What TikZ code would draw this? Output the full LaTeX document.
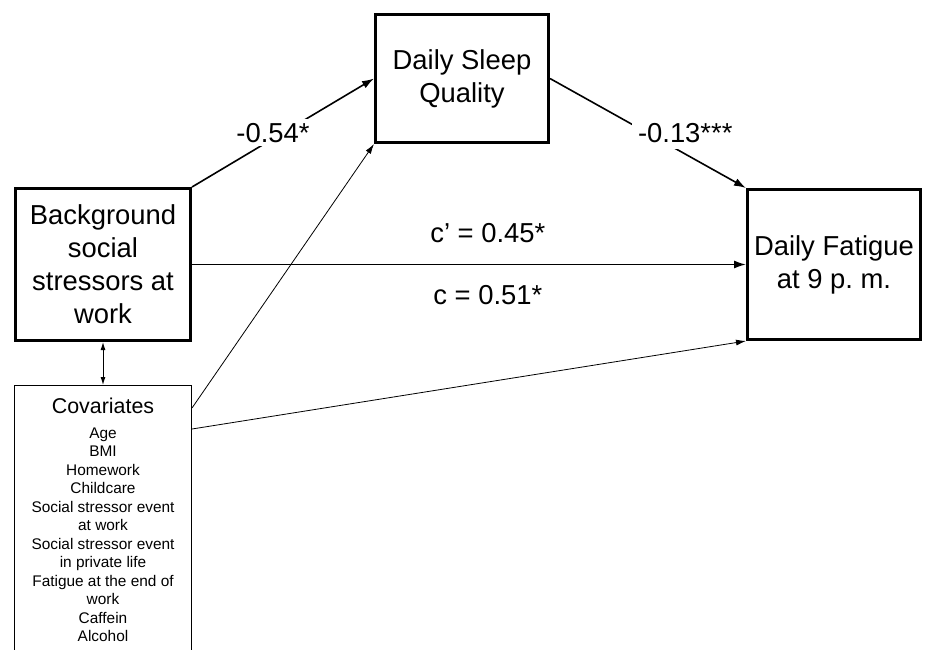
\documentclass[tikz,border=0pt]{standalone}
\usepackage{fontspec}
\setmainfont{Liberation Sans}
\usetikzlibrary{arrows.meta}
\tikzset{
    varbox/.style={draw, line width=1.5pt, align=center, inner sep=0pt,
        font=\fontsize{13.7}{16.5}\selectfont},
    mainarrow/.style={-{Latex[length=6pt,width=4pt]}, line width=0.8pt},
    covarrow/.style={-{Latex[length=5pt,width=3pt]}, line width=0.4pt},
    coef/.style={font=\fontsize{13.7}{16.5}\selectfont, inner sep=2pt}
}

\begin{document}
\begin{tikzpicture}[x=0.5pt, y=-0.5pt]
    \useasboundingbox (0,0) rectangle (925,649);
    \clip (0,0) rectangle (925,649);
    % Variables
    \node[varbox, minimum width=87.5pt, minimum height=76pt] (bg) at (103,264.5)
        {Background\\social\\stressors at\\work};
    \node[varbox, minimum width=86.5pt, minimum height=64pt] (sleep) at (462,78.5)
        {Daily Sleep\\Quality};
    \node[varbox, minimum width=86.5pt, minimum height=75pt] (fatigue) at (834,264.5)
        {Daily Fatigue\\at 9 p.\ m.};
    % Covariates
    \node[draw, line width=0.5pt, inner sep=0pt, minimum width=88.5pt, minimum height=150pt,
        anchor=north] (cov) at (103,385) {};
    \node[anchor=base, inner sep=0pt, font=\fontsize{10.7}{12.8}\selectfont] (covtitle) at (103,413) {Covariates};
    \node[anchor=north, inner sep=0pt, align=center, font=\fontsize{7.7}{9.27}\selectfont] (covlist) at (103,427)
        {Age\\BMI\\Homework\\Childcare\\Social stressor event\\at work\\Social stressor event\\in private life\\Fatigue at the end of\\work\\Caffein\\Alcohol};
    \coordinate (covA) at ([yshift=-11.5pt]cov.north east);
    \coordinate (covB) at ([yshift=-22pt]cov.north east);
    % Paths
    \draw[mainarrow] (bg.north east) -- (sleep.west)
        node[coef, fill=white, pos=0.445, yshift=3pt] (aPath) {-0.54*};
    \draw[mainarrow] (sleep.east) -- (fatigue.north west)
        node[coef, fill=white, pos=0.69, yshift=10.5pt, inner sep=3pt] (bPath) {-0.13***};
    \draw[mainarrow] (bg.east) -- (fatigue.west)
        node[coef, pos=0.534, above, inner sep=0pt, yshift=10.5pt] (cPrime) {c’ = 0.45*}
        node[coef, pos=0.534, below, inner sep=0pt, yshift=-10pt] (cTotal) {c = 0.51*};
    \draw[covarrow] (covA) -- (sleep.south west);
    \draw[covarrow] (covB) -- (fatigue.south west);
    \draw[{Latex[length=4pt,width=2.5pt]}-{Latex[length=4pt,width=2.5pt]}, line width=0.5pt] (bg.south) -- (cov.north);
\end{tikzpicture}
\end{document}
